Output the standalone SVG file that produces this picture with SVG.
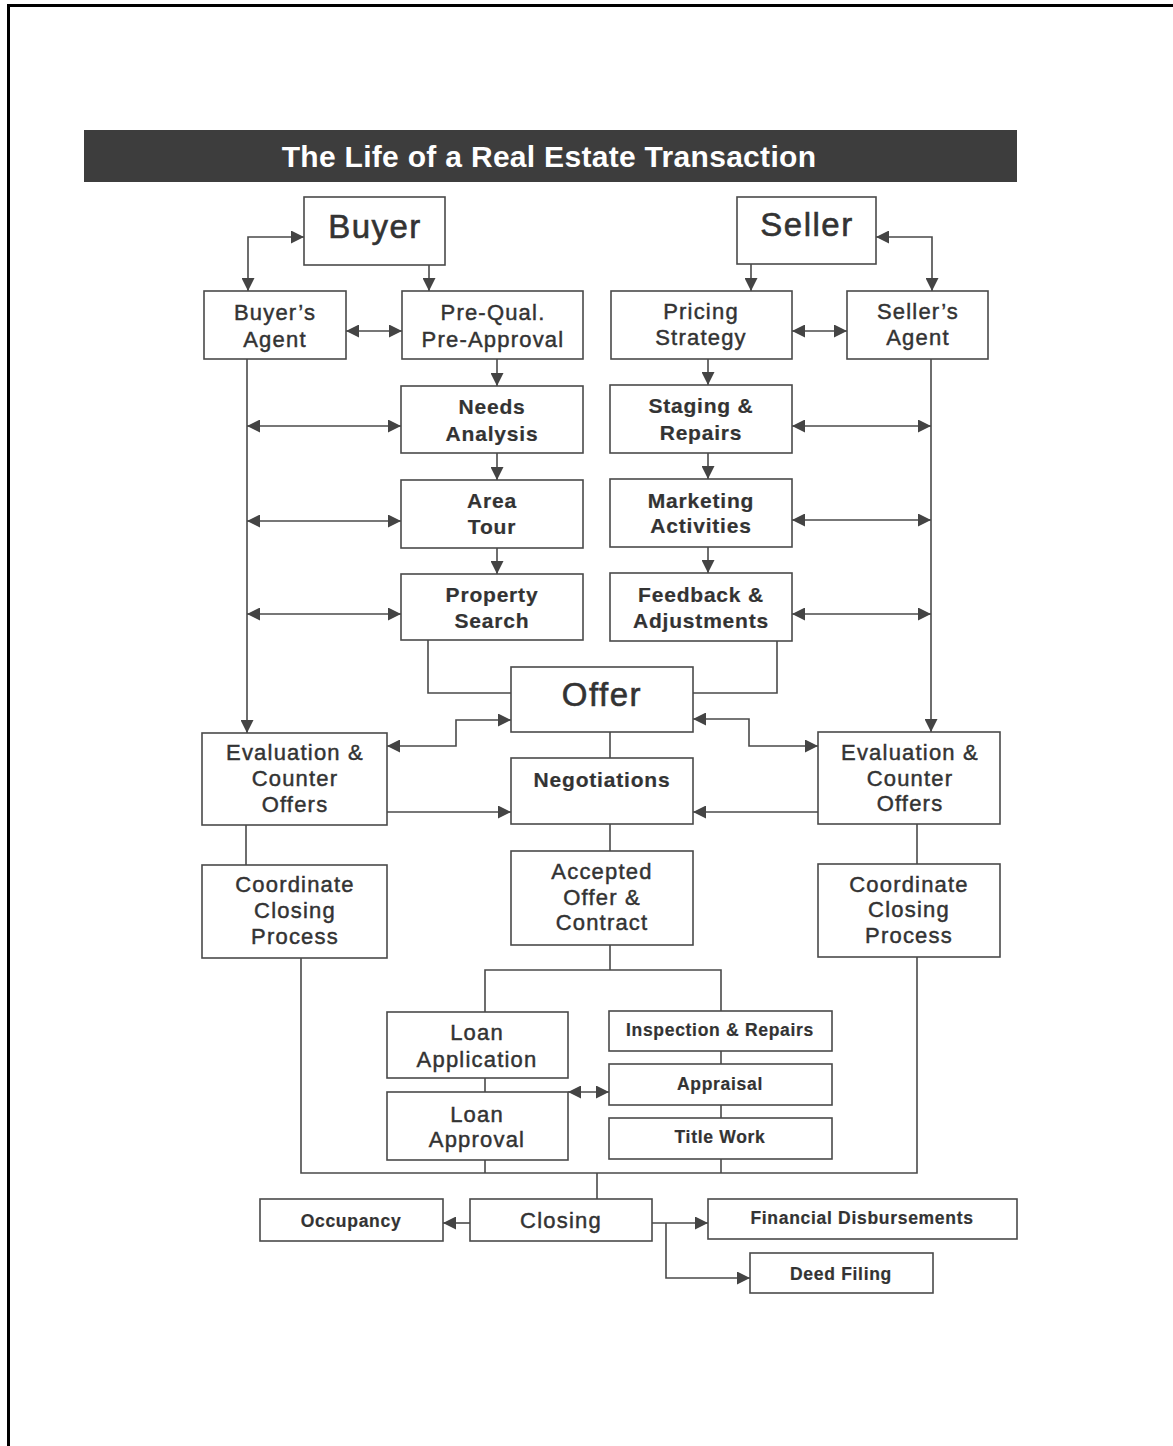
<svg xmlns="http://www.w3.org/2000/svg" width="1173" height="1446" viewBox="0 0 1173 1446">
<defs>
<marker id="ah" viewBox="0 0 13 13" refX="13" refY="6.5" markerWidth="13" markerHeight="13" markerUnits="userSpaceOnUse" orient="auto-start-reverse">
<path d="M0,0 L13,6.5 L0,13 z" fill="#444"/>
</marker>
<style>
.box{fill:#fff;stroke:#4a4a4a;stroke-width:1.6}
.t{font-family:"Liberation Sans",Arial,sans-serif;fill:#333;stroke:#333;stroke-width:0.45px;text-anchor:middle;font-size:22px;letter-spacing:1.2px}
.b{font-weight:bold;stroke-width:0.2px;font-size:21px;letter-spacing:0.8px}
.s{font-weight:bold;stroke-width:0.2px;font-size:17.5px;letter-spacing:0.7px}
.big{font-size:33px;letter-spacing:1.5px;stroke-width:0.6px}
.ln{fill:none;stroke:#4a4a4a;stroke-width:1.6}
.a2{marker-start:url(#ah);marker-end:url(#ah)}
.a1{marker-end:url(#ah)}
</style>
</defs>
<rect width="1173" height="1446" fill="#fff"/>
<path d="M8.5,1446 V5.5 H1173" fill="none" stroke="#000" stroke-width="3"/>
<g id="title">
<rect x="84" y="130" width="933" height="52" fill="#3d3d3d"/>
<text x="549" y="167" font-family="'Liberation Sans',Arial,sans-serif" font-weight="bold" font-size="30" letter-spacing="0.3" fill="#fff" text-anchor="middle">The Life of a Real Estate Transaction</text>
</g>
<g id="connectors">
<path class="ln a2" d="M304,237 H248 V291"/>
<path class="ln a1" d="M429,265 V291"/>
<path class="ln a2" d="M346,331 H402"/>
<path class="ln a1" d="M751,264 V291"/>
<path class="ln a2" d="M876,237 H932 V291"/>
<path class="ln a2" d="M792,331 H847"/>
<path class="ln a1" d="M247,359 V733"/>
<path class="ln a1" d="M497,359 V386"/>
<path class="ln a1" d="M497,453 V480"/>
<path class="ln a1" d="M497,548 V574"/>
<path class="ln a2" d="M247,426 H401"/>
<path class="ln a2" d="M247,521 H401"/>
<path class="ln a2" d="M247,614 H401"/>
<path class="ln a1" d="M708,359 V385"/>
<path class="ln a1" d="M708,453 V479"/>
<path class="ln a1" d="M708,547 V573"/>
<path class="ln a2" d="M792,426 H931"/>
<path class="ln a2" d="M792,520 H931"/>
<path class="ln a2" d="M792,614 H931"/>
<path class="ln a1" d="M931,359 V732"/>
<path class="ln" d="M428,640 V693 H511"/>
<path class="ln" d="M777,641 V693 H693"/>
<path class="ln a2" d="M387,746 H456 V720 H511"/>
<path class="ln a1" d="M387,812 H511"/>
<path class="ln a2" d="M693,719 H749 V746 H818"/>
<path class="ln a1" d="M818,812 H693"/>
<path class="ln" d="M610,732 V758"/>
<path class="ln" d="M610,824 V851"/>
<path class="ln" d="M246,825 V865"/>
<path class="ln" d="M917,824 V864"/>
<path class="ln" d="M610,945 V970"/>
<path class="ln" d="M485,1012 V970 H721 V1011"/>
<path class="ln" d="M485,1078 V1092"/>
<path class="ln" d="M721,1051 V1064"/>
<path class="ln" d="M721,1105 V1118"/>
<path class="ln a2" d="M568,1092 H609"/>
<path class="ln" d="M301,958 V1173 H917 V957"/>
<path class="ln" d="M485,1160 V1173"/>
<path class="ln" d="M721,1159 V1173"/>
<path class="ln" d="M597,1173 V1199"/>
<path class="ln a1" d="M470,1223 H443"/>
<path class="ln a1" d="M652,1223 H708"/>
<path class="ln a1" d="M666,1223 V1278 H750"/>
</g>
<g id="buyer"><rect class="box" x="304" y="197" width="141" height="68"/><text class="t big" x="375" y="238">Buyer</text></g>
<g id="seller"><rect class="box" x="737" y="197" width="139" height="67"/><text class="t big" x="807" y="236">Seller</text></g>
<g id="buyers-agent"><rect class="box" x="204" y="291" width="142" height="68"/><text class="t" x="275" y="320">Buyer’s</text><text class="t" x="275" y="347">Agent</text></g>
<g id="prequal"><rect class="box" x="402" y="291" width="181" height="68"/><text class="t" x="493" y="320">Pre-Qual.</text><text class="t" x="493" y="347">Pre-Approval</text></g>
<g id="pricing"><rect class="box" x="611" y="291" width="181" height="68"/><text class="t" x="701" y="319">Pricing</text><text class="t" x="701" y="345">Strategy</text></g>
<g id="sellers-agent"><rect class="box" x="847" y="291" width="141" height="68"/><text class="t" x="918" y="319">Seller’s</text><text class="t" x="918" y="345">Agent</text></g>
<g id="needs"><rect class="box" x="401" y="386" width="182" height="67"/><text class="t b" x="492" y="414">Needs</text><text class="t b" x="492" y="441">Analysis</text></g>
<g id="area"><rect class="box" x="401" y="480" width="182" height="68"/><text class="t b" x="492" y="508">Area</text><text class="t b" x="492" y="534">Tour</text></g>
<g id="property"><rect class="box" x="401" y="574" width="182" height="66"/><text class="t b" x="492" y="602">Property</text><text class="t b" x="492" y="628">Search</text></g>
<g id="staging"><rect class="box" x="610" y="385" width="182" height="68"/><text class="t b" x="701" y="413">Staging &amp;</text><text class="t b" x="701" y="440">Repairs</text></g>
<g id="marketing"><rect class="box" x="610" y="479" width="182" height="68"/><text class="t b" x="701" y="508">Marketing</text><text class="t b" x="701" y="533">Activities</text></g>
<g id="feedback"><rect class="box" x="610" y="573" width="182" height="68"/><text class="t b" x="701" y="602">Feedback &amp;</text><text class="t b" x="701" y="628">Adjustments</text></g>
<g id="offer"><rect class="box" x="511" y="667" width="182" height="65"/><text class="t big" x="602" y="706">Offer</text></g>
<g id="eval-left"><rect class="box" x="202" y="733" width="185" height="92"/><text class="t" x="295" y="760">Evaluation &amp;</text><text class="t" x="295" y="786">Counter</text><text class="t" x="295" y="812">Offers</text></g>
<g id="negotiations"><rect class="box" x="511" y="758" width="182" height="66"/><text class="t b" x="602" y="787">Negotiations</text></g>
<g id="eval-right"><rect class="box" x="818" y="732" width="182" height="92"/><text class="t" x="910" y="760">Evaluation &amp;</text><text class="t" x="910" y="786">Counter</text><text class="t" x="910" y="811">Offers</text></g>
<g id="accepted"><rect class="box" x="511" y="851" width="182" height="94"/><text class="t" x="602" y="879">Accepted</text><text class="t" x="602" y="905">Offer &amp;</text><text class="t" x="602" y="930">Contract</text></g>
<g id="coord-left"><rect class="box" x="202" y="865" width="185" height="93"/><text class="t" x="295" y="892">Coordinate</text><text class="t" x="295" y="918">Closing</text><text class="t" x="295" y="944">Process</text></g>
<g id="coord-right"><rect class="box" x="818" y="864" width="182" height="93"/><text class="t" x="909" y="892">Coordinate</text><text class="t" x="909" y="917">Closing</text><text class="t" x="909" y="943">Process</text></g>
<g id="loan-app"><rect class="box" x="387" y="1012" width="181" height="66"/><text class="t" x="477" y="1040">Loan</text><text class="t" x="477" y="1067">Application</text></g>
<g id="loan-approval"><rect class="box" x="387" y="1092" width="181" height="68"/><text class="t" x="477" y="1122">Loan</text><text class="t" x="477" y="1147">Approval</text></g>
<g id="inspection"><rect class="box" x="609" y="1011" width="223" height="40"/><text class="t s" x="720" y="1036">Inspection &amp; Repairs</text></g>
<g id="appraisal"><rect class="box" x="609" y="1064" width="223" height="41"/><text class="t s" x="720" y="1090">Appraisal</text></g>
<g id="title-work"><rect class="box" x="609" y="1118" width="223" height="41"/><text class="t s" x="720" y="1143">Title Work</text></g>
<g id="occupancy"><rect class="box" x="260" y="1199" width="183" height="42"/><text class="t s" x="351" y="1227">Occupancy</text></g>
<g id="closing"><rect class="box" x="470" y="1199" width="182" height="42"/><text class="t" x="561" y="1228">Closing</text></g>
<g id="financial"><rect class="box" x="708" y="1199" width="309" height="40"/><text class="t s" x="862" y="1224">Financial Disbursements</text></g>
<g id="deed"><rect class="box" x="750" y="1253" width="183" height="40"/><text class="t s" x="841" y="1280">Deed Filing</text></g>
</svg>
